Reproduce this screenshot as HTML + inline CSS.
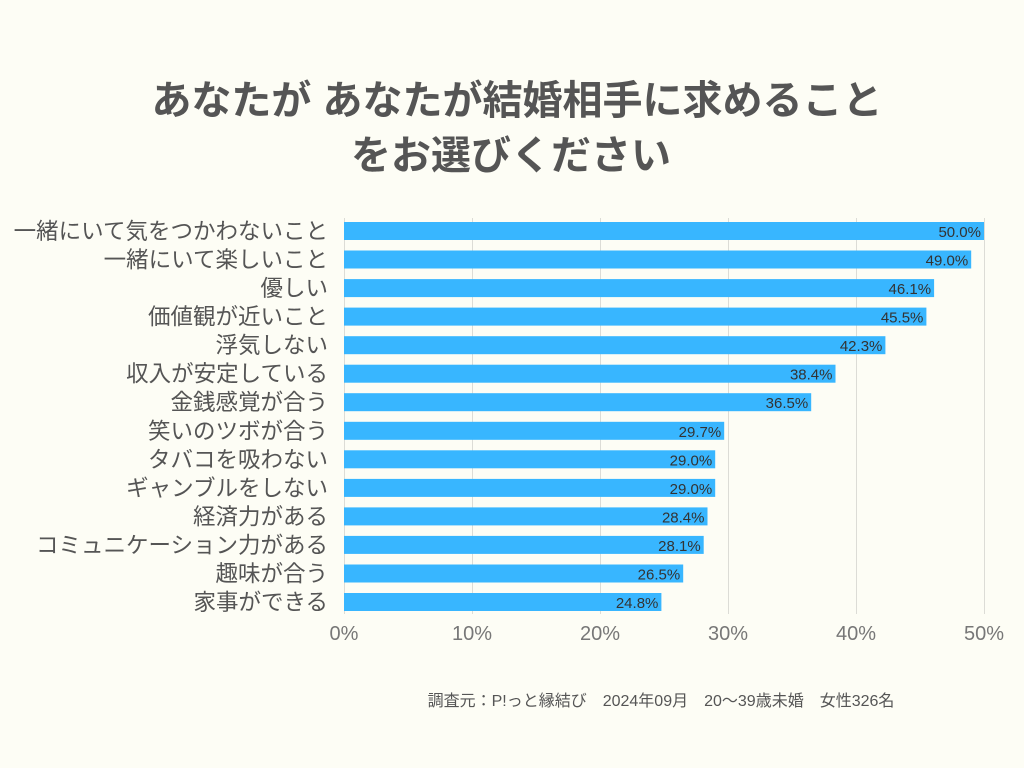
<!DOCTYPE html>
<html><head><meta charset="utf-8"><style>
html,body{margin:0;padding:0;background:#fdfdf5;}
svg{display:block;font-family:"Liberation Sans","Noto Sans CJK JP",sans-serif;}
</style></head><body>
<svg width="1024" height="768" viewBox="0 0 1024 768">
<rect width="1024" height="768" fill="#fdfdf5"/>
<text x="517" y="114" text-anchor="middle" font-size="40" font-weight="bold" fill="#555">あなたが あなたが結婚相手に求めること</text>
<text x="511" y="169" text-anchor="middle" font-size="40" font-weight="bold" fill="#555">をお選びください</text>
<g stroke="#dcdcd6" stroke-width="1">
<line x1="344.5" y1="218" x2="344.5" y2="614"/>
<line x1="472.5" y1="218" x2="472.5" y2="614"/>
<line x1="600.5" y1="218" x2="600.5" y2="614"/>
<line x1="728.5" y1="218" x2="728.5" y2="614"/>
<line x1="856.5" y1="218" x2="856.5" y2="614"/>
<line x1="984.5" y1="218" x2="984.5" y2="614"/>
</g>
<g font-size="20" fill="#777" text-anchor="middle">
<text x="344" y="640">0%</text><text x="472" y="640">10%</text><text x="600" y="640">20%</text>
<text x="728" y="640">30%</text><text x="856" y="640">40%</text><text x="984" y="640">50%</text>
</g>
<g fill="#38b6ff">
<rect x="344" y="222" width="640" height="18"/>
<rect x="344" y="250.5" width="627.2" height="18"/>
<rect x="344" y="279.1" width="590.1" height="18"/>
<rect x="344" y="307.6" width="582.4" height="18"/>
<rect x="344" y="336.2" width="541.4" height="18"/>
<rect x="344" y="364.7" width="491.5" height="18"/>
<rect x="344" y="393.2" width="467.2" height="18"/>
<rect x="344" y="421.8" width="380.2" height="18"/>
<rect x="344" y="450.3" width="371.2" height="18"/>
<rect x="344" y="478.9" width="371.2" height="18"/>
<rect x="344" y="507.4" width="363.5" height="18"/>
<rect x="344" y="535.9" width="359.7" height="18"/>
<rect x="344" y="564.5" width="339.2" height="18"/>
<rect x="344" y="593" width="317.4" height="18"/>
</g>
<g font-size="15" fill="#333" text-anchor="end">
<text x="981" y="237">50.0%</text>
<text x="968.2" y="265.5">49.0%</text>
<text x="931.1" y="294.1">46.1%</text>
<text x="923.4" y="322.6">45.5%</text>
<text x="882.4" y="351.2">42.3%</text>
<text x="832.5" y="379.7">38.4%</text>
<text x="808.2" y="408.2">36.5%</text>
<text x="721.2" y="436.8">29.7%</text>
<text x="712.2" y="465.3">29.0%</text>
<text x="712.2" y="493.9">29.0%</text>
<text x="704.5" y="522.4">28.4%</text>
<text x="700.7" y="550.9">28.1%</text>
<text x="680.2" y="579.5">26.5%</text>
<text x="658.4" y="608">24.8%</text>
</g>
<g font-size="22.5" fill="#555" text-anchor="end">
<text x="328" y="239">一緒にいて気をつかわないこと</text>
<text x="328" y="267.5">一緒にいて楽しいこと</text>
<text x="328" y="296.1">優しい</text>
<text x="328" y="324.6">価値観が近いこと</text>
<text x="328" y="353.2">浮気しない</text>
<text x="328" y="381.7">収入が安定している</text>
<text x="328" y="410.2">金銭感覚が合う</text>
<text x="328" y="438.8">笑いのツボが合う</text>
<text x="328" y="467.3">タバコを吸わない</text>
<text x="328" y="495.9">ギャンブルをしない</text>
<text x="328" y="524.4">経済力がある</text>
<text x="328" y="552.9">コミュニケーション力がある</text>
<text x="328" y="581.5">趣味が合う</text>
<text x="328" y="610">家事ができる</text>
</g>
<text x="661" y="706" text-anchor="middle" font-size="16" fill="#555">調査元：P!っと縁結び　2024年09月　20〜39歳未婚　女性326名</text>
</svg>
</body></html>
